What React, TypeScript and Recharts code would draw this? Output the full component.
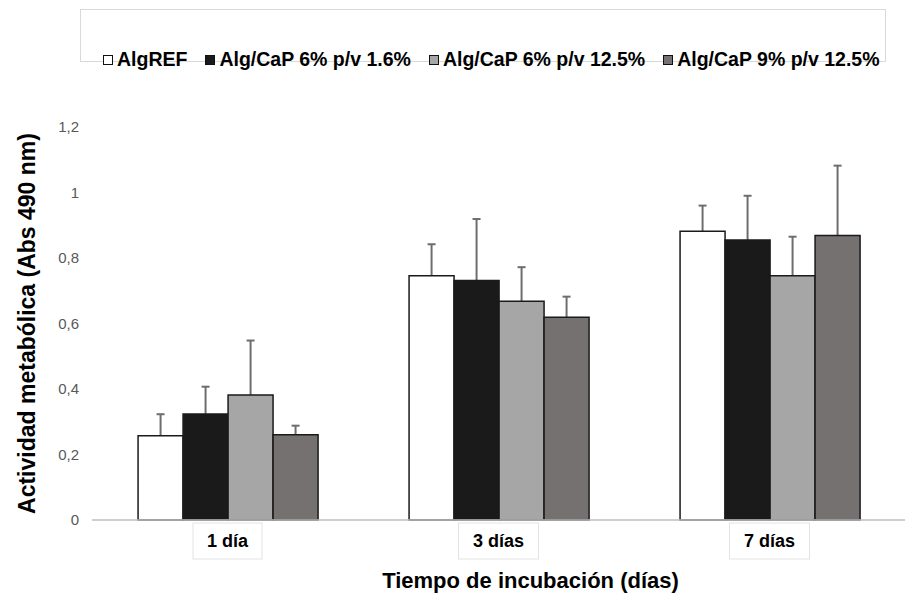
import { BarChart, Bar, XAxis, YAxis, Label, Rectangle } from "recharts";

// Absorbance (490 nm) per incubation time; errors are upper SD only
const categories = ["1 día", "3 días", "7 días"];
const seriesNames = [
  "AlgREF",
  "Alg/CaP 6% p/v 1.6%",
  "Alg/CaP 6% p/v 12.5%",
  "Alg/CaP 9% p/v 12.5%",
];
const algRef = [0.257, 0.746, 0.882];
const cap6low = [0.324, 0.731, 0.855];
const cap6high = [0.382, 0.668, 0.746];
const cap9high = [0.26, 0.619, 0.869];
const algRefErr = [0.066, 0.096, 0.078];
const cap6lowErr = [0.083, 0.188, 0.135];
const cap6highErr = [0.166, 0.104, 0.119];
const cap9highErr = [0.028, 0.063, 0.213];
const yTicks = [0, 0.2, 0.4, 0.6, 0.8, 1, 1.2];

const seriesValues = [algRef, cap6low, cap6high, cap9high];
const seriesErrors = [algRefErr, cap6lowErr, cap6highErr, cap9highErr];
const fills = ["#ffffff", "#1a1a1a", "#a6a6a6", "#767171"];

const rows = categories.map((c, i) => {
  const row: Record<string, unknown> = { name: c };
  seriesValues.forEach((vals, s) => {
    row["s" + s] = vals[i];
    row["e" + s] = seriesErrors[s][i];
  });
  return row;
});

const FONT = "'Liberation Sans', Arial, sans-serif";

if (typeof document !== "undefined") document.body.style.margin = "0";

function CategoryTick({ x, y, payload }: any) {
  const w = String(payload.value).length * 11 + 14;
  return (
    <g>
      <rect x={x - w / 2} y={y + 3} width={w} height={36} fill="#fff" stroke="#e3e3e3" />
      <text x={x} y={y + 27} textAnchor="middle" fontFamily={FONT} fontWeight="bold" fontSize={18} fill="#000">
        {payload.value}
      </text>
    </g>
  );
}

// bar rect plus an upper-only error whisker, scaled from the bar's own px/value ratio
function BarWithError(props: any) {
  const { x, y, width, height, value, payload, errKey } = props;
  const v = Array.isArray(value) ? value[1] - value[0] : value;
  const err = payload[errKey] as number;
  const errPx = v ? (err * height) / v : 0;
  const cx = x + width / 2;
  const top = y - errPx;
  return (
    <g>
      <line x1={cx} x2={cx} y1={y} y2={top} stroke="#6d6d6d" strokeWidth={2} />
      <line x1={cx - 4} x2={cx + 4} y1={top} y2={top} stroke="#6d6d6d" strokeWidth={2} />
      <Rectangle {...props} />
    </g>
  );
}

export default function App() {
  return (
    <div style={{ position: "relative", width: 906, height: 593, background: "#fff", fontFamily: FONT }}>
      <div
        style={{
          position: "absolute",
          left: 80,
          top: 9,
          width: 804,
          height: 51,
          border: "1px solid #d9d9d9",
        }}
      />
      <div
        style={{
          position: "absolute",
          left: 103,
          top: 50,
          display: "flex",
          alignItems: "center",
          gap: 18,
          fontSize: 19.5,
          lineHeight: "19px",
          fontWeight: "bold",
          whiteSpace: "nowrap",
          zIndex: 2,
        }}
      >
        {seriesNames.map((n, i) => (
          <div key={n} style={{ display: "flex", alignItems: "center" }}>
            <span
              style={{
                display: "inline-block",
                width: 8,
                height: 8,
                background: fills[i],
                border: "1px solid #111",
                marginRight: 4,
              }}
            />
            <span>{n}</span>
          </div>
        ))}
      </div>
      <BarChart
        width={906}
        height={593}
        data={rows}
        margin={{ top: 127, right: 1, left: 0, bottom: 0 }}
        barCategoryGap="17%"
        barGap={0}
      >
        <XAxis
          dataKey="name"
          height={73}
          axisLine={{ stroke: "#bfbfbf", strokeWidth: 1.5 }}
          tickLine={false}
          tickSize={0}
          tickMargin={0}
          tick={<CategoryTick />}
          interval={0}
        >
          <Label
            content={({ viewBox }: any) => (
              <text
                x={viewBox.x + viewBox.width / 2 + 32}
                y={588}
                textAnchor="middle"
                fontFamily={FONT}
                fontWeight="bold"
                fontSize={22}
                fill="#000"
              >
                Tiempo de incubación (días)
              </text>
            )}
          />
        </XAxis>
        <YAxis
          width={92}
          domain={[0, 1.2]}
          ticks={yTicks}
          axisLine={false}
          tickLine={false}
          tickMargin={7}
          tick={{ fontSize: 15, fill: "#595959", fontFamily: FONT }}
          tickFormatter={(v: number) => String(v).replace(".", ",")}
        >
          <Label
            content={({ viewBox }: any) => {
              const cy = viewBox.y + viewBox.height / 2;
              return (
                <text
                  x={35}
                  y={cy}
                  transform={`rotate(-90, 35, ${cy})`}
                  textAnchor="middle"
                  fontFamily={FONT}
                  fontWeight="bold"
                  fontSize={23}
                  fill="#000"
                >
                  Actividad metabólica (Abs 490 nm)
                </text>
              );
            }}
          />
        </YAxis>
        {seriesNames.map((n, i) => (
          <Bar
            key={n}
            dataKey={"s" + i}
            name={n}
            fill={fills[i]}
            stroke="#1a1a1a"
            strokeWidth={1.5}
            isAnimationActive={false}
            shape={(p: any) => <BarWithError {...p} errKey={"e" + i} />}
          />
        ))}
      </BarChart>
    </div>
  );
}
